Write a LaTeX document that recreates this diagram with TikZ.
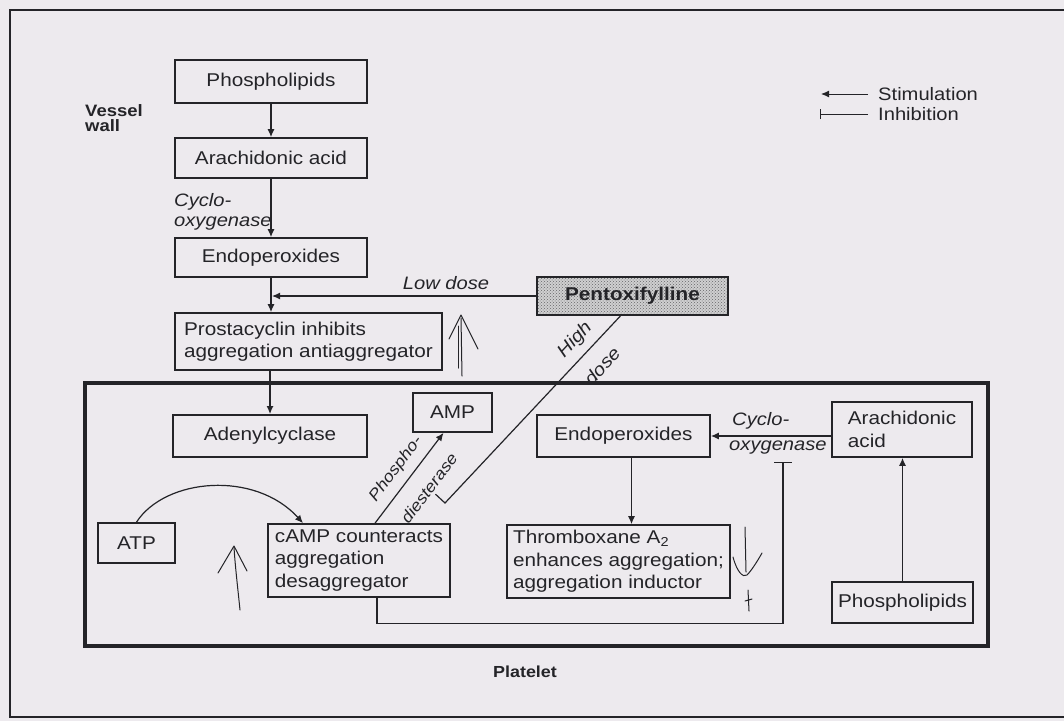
\documentclass[tikz,border=0pt]{standalone}
\usepackage{fontspec}
\setmainfont{Liberation Sans}[FakeStretch=1.12]
\usetikzlibrary{arrows.meta,calc,patterns}
\definecolor{paper}{RGB}{237,234,238}
\definecolor{ink}{RGB}{36,36,40}
\begin{document}
\begin{tikzpicture}[x=1pt,y=-1pt,
  every node/.style={text=ink},
  box/.style={draw=ink, line width=1.7pt, inner sep=0pt, align=left,
    font=\fontsize{18.5}{22.5}\selectfont},
  stim/.style={draw=ink, line width=1.2pt, -{Latex[length=8pt,width=7pt]}},
  inh/.style={draw=ink, line width=1.2pt, -{Bar[width=18pt,line width=1.4pt]}},
  lab/.style={font=\fontsize{18}{20}\selectfont\itshape, inner sep=0pt, align=left},
  hand/.style={draw=ink, line width=1pt, line cap=round, line join=round},
  tag/.style={font=\fontsize{16.5}{15}\selectfont\bfseries, inner sep=0pt, align=left},
  legend/.style={font=\fontsize{18}{20}\selectfont, inner sep=0pt, anchor=west}]

% paper and page frame
\fill[paper] (0,0) rectangle (1064,721);
\useasboundingbox (0,0) rectangle (1064,721);
\draw[ink, line width=1.8pt] (1064,10) -- (10,10) -- (10,717) -- (1064,717);

% platelet compartment
\node[draw=ink, line width=3.8pt, minimum width=903pt, minimum height=263pt, inner sep=0pt]
  (plt) at (536.5,514.5) {};
\node[tag, font=\fontsize{16}{16}\selectfont\bfseries] (pltlabel) at (525,672) {Platelet};

% vessel wall pathway
\node[tag, anchor=north west] (vw) at (85,104) {Vessel\\wall};
\node[box, minimum width=192pt, minimum height=43pt] (pl1) at (271,81.5) {Phospholipids};
\node[box, minimum width=192pt, minimum height=40pt] (aa1) at (271,158) {Arachidonic acid};
\node[box, minimum width=192pt, minimum height=39pt] (ep1) at (271,257.5) {Endoperoxides};
\node[box, minimum width=267pt, minimum height=57pt] (pc) at (308.5,341.5)
  {Prostacyclin inhibits\\aggregation antiaggregator};

\draw[stim] (pl1) -- (aa1);
\draw[stim] (aa1) -- (ep1);
\node[lab, anchor=north west] (cox1) at (174,193) {Cyclo-\\oxygenase};
\draw[stim] (ep1.south) -- (ep1.south |- pc.north);

% drug
\node[box, minimum width=191pt, minimum height=38pt, preaction={fill=ink!22},
  pattern=crosshatch dots, pattern color=ink!70,
  font=\fontsize{18.5}{22.5}\selectfont\bfseries] (pent) at (632.5,296)
  {Pentoxifylline};
\coordinate (ld) at (272,296);
\draw[stim] (pent.west) -- (ld);
\node[lab] (ldl) at (446,283) {Low dose};

\coordinate (hd) at (445,503);
\draw[ink, line width=1.2pt] ([xshift=-12pt]pent.south) -- (hd) -- ++(-9.5,-8.8);
\node[lab, rotate=47] (hdl1) at (575,340) {High};
\node[lab, rotate=47] (hdl2) at (602,366) {dose};

% platelet: cAMP side
\node[box, minimum width=194pt, minimum height=42pt] (ac) at (270,436) {Adenylcyclase};
\node[box, minimum width=79pt, minimum height=39pt] (amp) at (452.5,412.5) {AMP};
\node[box, minimum width=77pt, minimum height=40pt] (atp) at (136.5,543) {ATP};
\node[box, minimum width=182pt, minimum height=73pt] (camp) at (359,560.5)
  {cAMP counteracts\\aggregation\\desaggregator};

\draw[stim, line width=2.2pt] (ac.north |- pc.south) -- (ac.north);
\draw[stim] (atp.north) .. controls (165,478) and (255,470) .. ([xshift=-56pt]camp.north);
\draw[stim] ([xshift=16pt]camp.north) -- ([xshift=-9pt]amp.south);
\node[lab, rotate=53, font=\fontsize{16}{16}\selectfont\itshape] (pd1) at (396,469) {Phospho-};
\node[lab, rotate=53, font=\fontsize{16}{16}\selectfont\itshape] (pd2) at (429,488) {diesterase};

% platelet: thromboxane side
\node[box, minimum width=173pt, minimum height=42pt] (ep2) at (623.5,436) {Endoperoxides};
\node[box, minimum width=140pt, minimum height=55pt] (aa2) at (902,429.5) {Arachidonic\\acid};
\node[box, minimum width=223pt, minimum height=73pt] (tx) at (618.5,561.5)
  {Thromboxane A\textsubscript{2}\\enhances aggregation;\\aggregation inductor};
\node[box, minimum width=141pt, minimum height=41pt] (pl2) at (902.5,602.5) {Phospholipids};

\draw[stim] (pl2.north) -- (pl2.north |- aa2.south);
\draw[stim] (aa2.west |- ep2.east) -- (ep2.east);
\node[lab, anchor=west] (cox2a) at (732,421) {Cyclo-};
\node[lab, anchor=west] (cox2b) at (729,448) {oxygenase};
\draw[stim] ([xshift=8pt]ep2.south) -- ([xshift=8pt]ep2.south |- tx.north);

% cAMP inhibits cyclo-oxygenase
\coordinate (coxbar) at (783,462);
\draw[inh] ([xshift=18pt]camp.south) -- ++(0,26) -| (coxbar);

% hand-drawn marks
\draw[hand] (240,610) .. controls (238,590) and (235,565) .. (234,547);
\draw[hand] (218,573) -- (234,546) -- (247,571);
\draw[hand] (462,376) -- (461,318);
\draw[hand] (458,368) -- (458,326);
\draw[hand] (449,339) -- (461,315) -- (478,349);
\draw[hand] (745,527) -- (746,572);
\draw[hand] (733,557) .. controls (737,572) and (743,578) .. (747,575)
  .. controls (752,570) and (758,560) .. (762,553);
\draw[hand] (748,590) -- (749,611);
\draw[hand] (745,601) -- (752,599);

% legend
\coordinate (s1) at (868,94); \coordinate (s2) at (821,94);
\draw[stim, line width=1pt] (s1) -- (s2);
\node[legend] (stimtxt) at (878,94) {Stimulation};
\coordinate (i1) at (868,114); \coordinate (i2) at (820,114);
\draw[draw=ink, line width=1pt, -{Bar[width=10pt,line width=1.2pt]}] (i1) -- (i2);
\node[legend] (inhtxt) at (878,114) {Inhibition};

\end{tikzpicture}
\end{document}
